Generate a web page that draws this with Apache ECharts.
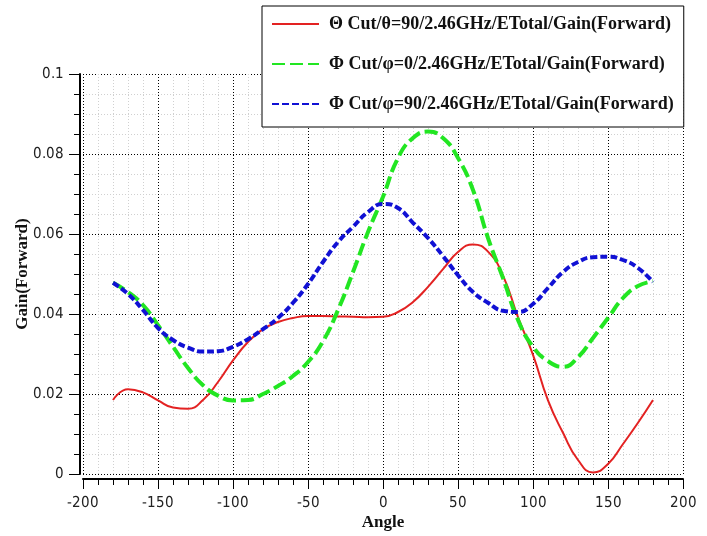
<!DOCTYPE html>
<html>
<head>
<meta charset="utf-8">
<script src="https://cdn.jsdelivr.net/npm/echarts@6/dist/echarts.min.js"></script>
<style>
  @font-face {
    font-family: 'TickNarrow';
    src: local('Liberation Sans Narrow'), local('LiberationSansNarrow-Regular'),
         local('DejaVu Sans Condensed'), local('DejaVuSansCondensed');
  }
  html, body { margin: 0; padding: 0; background: #fff; }
  #chart { width: 707px; height: 536px; }
</style>
</head>
<body>
<div id="chart"></div>
<script>
// angles, -180 .. 180 in 10 degree steps
const angles = [-180, -170, -160, -150, -140, -130, -120, -110, -100, -90, -80, -70, -60, -50, -40, -30, -20, -10,
  0, 10, 20, 30, 40, 50, 60, 70, 80, 90, 100, 110, 120, 130, 140, 150, 160, 170, 180];

const thetaCut90 = [0.0185, 0.0212, 0.0204, 0.0184, 0.0166, 0.0163, 0.0185, 0.0230, 0.0284, 0.0330, 0.0362, 0.0380,
  0.0390, 0.0395, 0.0395, 0.0394, 0.0393, 0.0392, 0.0393, 0.0405, 0.0430, 0.0468, 0.0512, 0.0555, 0.0574, 0.0556,
  0.0496, 0.0392, 0.0298, 0.0184, 0.0103, 0.0035, 0.0004, 0.0025, 0.0075, 0.0128, 0.0185];

const phiCut0 = [0.0478, 0.0455, 0.0422, 0.0372, 0.0318, 0.0265, 0.0222, 0.0196, 0.0184, 0.0185, 0.0200, 0.0220,
  0.0245, 0.0280, 0.0332, 0.0410, 0.0505, 0.0605, 0.0693, 0.0790, 0.0840, 0.0856, 0.0840, 0.0790, 0.0710, 0.0590,
  0.0490, 0.0385, 0.0318, 0.0282, 0.0268, 0.0292, 0.0340, 0.0390, 0.0440, 0.0470, 0.0482];

const phiCut90 = [0.0478, 0.0450, 0.0410, 0.0365, 0.0335, 0.0316, 0.0306, 0.0307, 0.0318, 0.0337, 0.0362, 0.0390,
  0.0428, 0.0475, 0.0530, 0.0580, 0.0618, 0.0655, 0.0675, 0.0665, 0.0628, 0.0590, 0.0545, 0.0497, 0.0455, 0.0428,
  0.0408, 0.0405, 0.0425, 0.0465, 0.0505, 0.0530, 0.0542, 0.0543, 0.0535, 0.0515, 0.0480];

const seriesNames = [
  'Θ Cut/θ=90/2.46GHz/ETotal/Gain(Forward)',
  'Φ Cut/φ=0/2.46GHz/ETotal/Gain(Forward)',
  'Φ Cut/φ=90/2.46GHz/ETotal/Gain(Forward)'
];

const pairs = ys => angles.map((a, i) => [a, ys[i]]);

const tickFont = 'TickNarrow, "Liberation Sans Narrow", "DejaVu Sans Condensed", sans-serif';
const titleFont = '"Liberation Serif", "DejaVu Serif", serif';

const lineSeries = (name, data, color, width, dash) => ({
  name: name,
  type: 'line',
  data: pairs(data),
  smooth: true,
  symbol: 'none',
  lineStyle: { color: color, width: width, type: dash },
  itemStyle: { color: color }
});

const draw = () => {
  const chart = echarts.init(document.getElementById('chart'));
  chart.setOption({
    backgroundColor: '#fff',
    animation: false,
    legend: {
      orient: 'vertical',
      left: 262,
      top: 6,
      padding: [8, 10, 13, 9],
      itemGap: 20,
      itemWidth: 47,
      itemHeight: 14,
      backgroundColor: '#fff',
      borderColor: '#000',
      borderWidth: 1,
      itemStyle: { opacity: 0 },
      textStyle: {
        fontFamily: titleFont,
        fontWeight: 'bold',
        fontSize: 18,
        color: '#111',
        lineHeight: 20,
        padding: [0, 0, 0, 5]
      },
      data: seriesNames
    },
    grid: {
      left: 83,
      right: 24,
      top: 74,
      bottom: 62,
      outerBoundsMode: 'none'
    },
    xAxis: {
      type: 'value',
      min: -200,
      max: 200,
      interval: 50,
      offset: 5,
      name: 'Angle',
      nameLocation: 'middle',
      nameGap: 35,
      nameMoveOverlap: false,
      nameTextStyle: { fontFamily: titleFont, fontWeight: 'bold', fontSize: 17, color: '#111' },
      axisLine: { onZero: false, lineStyle: { color: '#000', width: 2 } },
      axisTick: { inside: false, length: 10, lineStyle: { color: '#000', width: 1 } },
      minorTick: { show: true, splitNumber: 5, length: 6, lineStyle: { color: '#000', width: 1 } },
      axisLabel: { margin: 17, fontFamily: tickFont, fontSize: 15, color: '#222' },
      splitLine: { show: true, lineStyle: { color: '#000', width: 1, type: [1, 2] } },
      minorSplitLine: { show: true, lineStyle: { color: '#d0d0d0', width: 1, type: [1, 2] } }
    },
    yAxis: {
      type: 'value',
      min: 0,
      max: 0.1,
      interval: 0.02,
      offset: 3,
      name: 'Gain(Forward)',
      nameLocation: 'middle',
      nameGap: 49,
      nameMoveOverlap: false,
      nameTextStyle: { fontFamily: titleFont, fontWeight: 'bold', fontSize: 17, color: '#111' },
      axisLine: { show: true, onZero: false, lineStyle: { color: '#000', width: 2 } },
      axisTick: { show: true, inside: false, length: 11, lineStyle: { color: '#000', width: 1 } },
      minorTick: { show: true, splitNumber: 4, length: 6, lineStyle: { color: '#000', width: 1 } },
      axisLabel: { margin: 16, fontFamily: tickFont, fontSize: 15, color: '#222' },
      splitLine: { show: true, lineStyle: { color: '#000', width: 1, type: [1, 2] } },
      minorSplitLine: { show: true, lineStyle: { color: '#d0d0d0', width: 1, type: [1, 2] } }
    },
    series: [
      lineSeries(seriesNames[0], thetaCut90, '#e32222', 2, 'solid'),
      lineSeries(seriesNames[1], phiCut0, '#22e622', 4, [13, 5]),
      lineSeries(seriesNames[2], phiCut90, '#1111d4', 4, [7, 3])
    ]
  });
};

if (document.fonts && document.fonts.load) {
  document.fonts.load('15px TickNarrow').then(draw, draw);
} else {
  draw();
}
</script>
</body>
</html>
